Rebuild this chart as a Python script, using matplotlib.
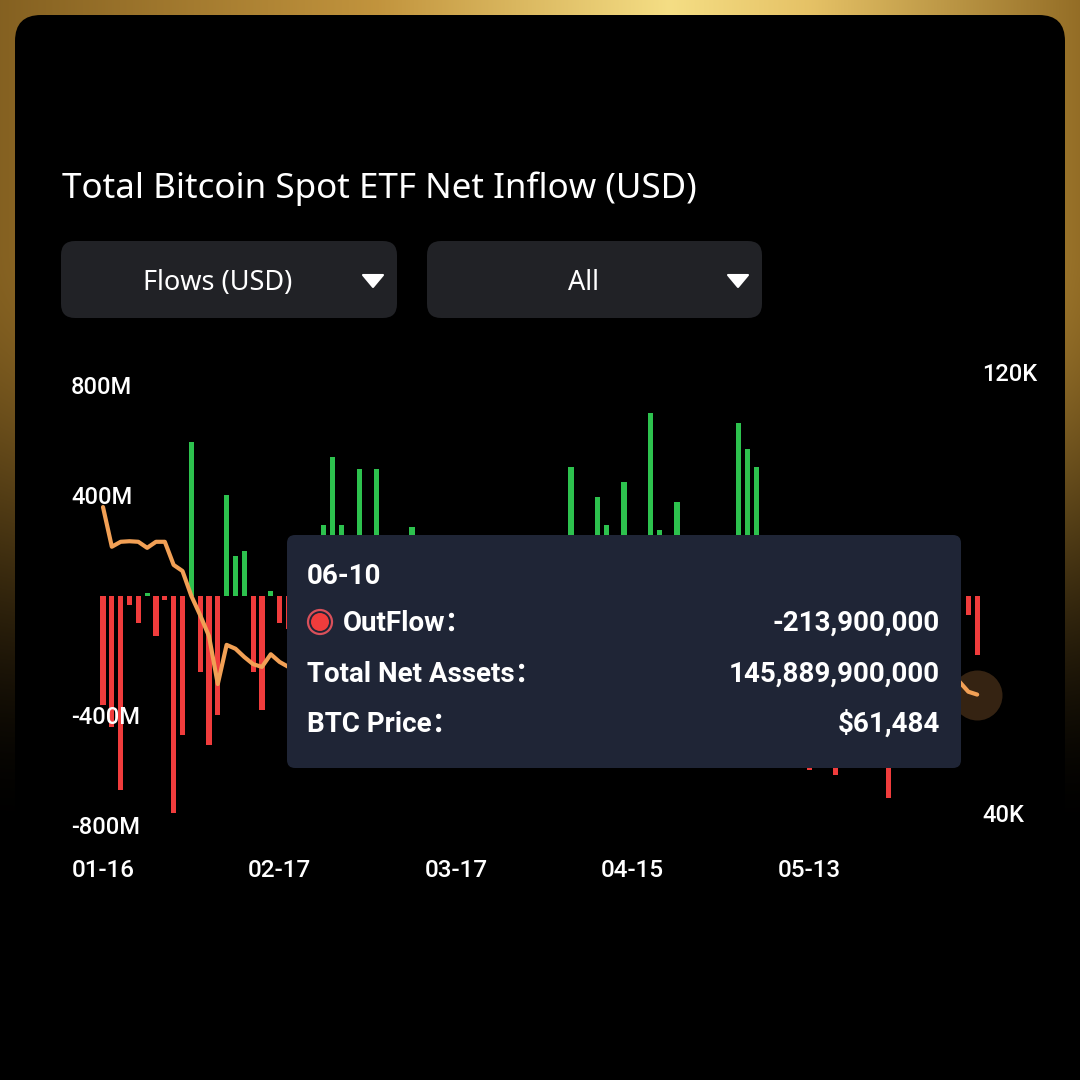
import numpy as np
import matplotlib
matplotlib.use('Agg')
import matplotlib.pyplot as plt
from matplotlib.patches import FancyBboxPatch, Polygon, Circle

# ---------------- data ----------------
flow_musd = [
    -396, -475, -705, -33, -99, 10, -145, -15, -790, -505,
    561, -275, -542, -433, 367, 145, 165, -275, -415, 18,
    -99, -120, 60, -180, 95, 258, 507, 258, 130, 462,
    85, 462, -140, 180, -60, 251, 120, -210, 75, -330,
    140, 40, -160, -90, 200, -410, -250, 110, -85, 30,
    -300, 150, -180, 470, 60, -120, 361, 258, 90, 416,
    -220, 150, 664, 240, -140, 343, 70, -280, 105, -540,
    -190, 200, 628, 535, 470, 120, -90, 50, -310, -160,
    -633, -180, 90, -651, -230, 130, -60, -470, 40, -735,
    -150, 80, -320, 160, -90, 60, -200, 0, -69, -213.9,
]
btc_price = [
    95500, 88300, 89200, 89300, 89200, 88100, 89200, 89200, 85000, 83900,
    79400, 75900, 72100, 63400, 70500, 69800, 68300, 67000, 66500, 68800,
    67400, 66500, 66000, 65500, 66800, 67500, 68200, 67000, 66400, 65800,
    66900, 68000, 69100, 70200, 71000, 70400, 69500, 68700, 69800, 71200,
    72000, 71500, 70300, 69000, 67800, 68500, 69400, 70600, 71300, 70800,
    69900, 68400, 67200, 66100, 65000, 64200, 63500, 64600, 65300, 64000,
    63100, 62400, 61800, 62900, 63700, 64500, 63200, 62000, 61300, 60500,
    59800, 60900, 62200, 63600, 64800, 65900, 66700, 67400, 68000, 67100,
    66300, 67200, 68100, 68900, 69500, 68800, 68000, 67300, 66500, 65800,
    65200, 64900, 65600, 66200, 66000, 65400, 64700, 63800, 62000, 61484,
]
x_tick_index = [0, 20, 40, 60, 80]
x_tick_labels = ['01-16', '02-17', '03-17', '04-15', '05-13']
left_ticks = [800, 400, -400, -800]
left_tick_labels = ['800M', '400M', '-400M', '-800M']
right_ticks = [120000, 40000]
right_tick_labels = ['120K', '40K']
title_text = 'Total Bitcoin Spot ETF Net Inflow (USD)'
dropdowns = ['Flows (USD)', 'All']
tooltip_date = '06-10'
tooltip_rows = [('OutFlow：', '-213,900,000'),
                ('Total Net Assets：', '145,889,900,000'),
                ('BTC Price：', '$61,484')]

GREEN = '#2dc24e'
RED = '#f03c3c'
ORANGE = '#f2a055'

plt.rcParams['font.family'] = ['Roboto', 'Noto Sans CJK SC', 'DejaVu Sans']

W = H = 1080
fig = plt.figure(figsize=(10.8, 10.8), dpi=100)
fig.patch.set_facecolor('black')

# ---------------- background ----------------
bg = fig.add_axes([0, 0, 1, 1], zorder=0)
bg.set_xlim(0, W)
bg.set_ylim(H, 0)
bg.axis('off')

xs = np.linspace(0, 1, W)
ys = np.arange(H)
xst = [0.0, 0.35, 0.62, 0.75, 1.0]
cr = [0.52, 0.76, 0.96, 0.90, 0.58]
cg = [0.38, 0.58, 0.87, 0.76, 0.43]
cb = [0.13, 0.24, 0.52, 0.40, 0.15]
base = np.stack([np.interp(xs, xst, cr), np.interp(xs, xst, cg), np.interp(xs, xst, cb)], axis=-1)
t = np.clip((ys - 250) / 590.0, 0, 1)
fade = 1 - (3 * t ** 2 - 2 * t ** 3)
img = fade[:, None, None] * base[None, :, :]
bg.imshow(img, extent=(0, W, H, 0), aspect='auto', interpolation='bilinear', zorder=0)

bg.add_patch(FancyBboxPatch((15, 15), 1050, 1200, boxstyle='round,pad=0,rounding_size=26',
                            fc='black', ec='none', zorder=1))

bg.text(62, 189, title_text, fontsize=25.2, color='white', va='center', ha='left',
        family=['Noto Sans', 'DejaVu Sans'], fontweight='medium', zorder=2)

boxes = [(61, 397, 218, 373), (427, 762, 584, 738)]
for (x0, x1, tx, triax), label in zip(boxes, dropdowns):
    bg.add_patch(FancyBboxPatch((x0, 241), x1 - x0, 77, boxstyle='round,pad=0,rounding_size=14',
                                fc='#212226', ec='none', zorder=2))
    bg.text(tx, 283, label, fontsize=19.5, color='white', va='center', ha='center',
            family=['Noto Sans', 'DejaVu Sans'], zorder=3)
    bg.add_patch(Polygon([[triax - 10, 275], [triax + 10, 275], [triax, 287]], closed=True,
                         fc='white', ec='white', lw=1.5, joinstyle='round', zorder=3))

# ---------------- chart ----------------
PX = 8.83          # pixels per bar
X0 = 103           # pixel of first bar
ZERO = 596         # pixel of zero flow
SC = 0.275         # pixels per million
top_px, bot_px, left_px, right_px = 340, 850, 80, 980

ax = fig.add_axes([left_px / W, 1 - bot_px / H, (right_px - left_px) / W, (bot_px - top_px) / H], zorder=1)
ax.patch.set_alpha(0)
idx = np.arange(len(flow_musd))
colors = [GREEN if v >= 0 else RED for v in flow_musd]
ax.bar(idx, flow_musd, width=0.58, color=colors, linewidth=0)
ax.set_xlim((left_px - X0) / PX, (right_px - X0) / PX)
ax.set_ylim(-(bot_px - ZERO) / SC, (ZERO - top_px) / SC)

ax.set_yticks(left_ticks, left_tick_labels)
for tl in ax.get_yticklabels():
    tl.set_ha('left')
    tl.set_va('top')
ax.tick_params(axis='y', length=0, pad=6.5, labelsize=17, labelcolor='white')
ax.set_xticks(x_tick_index, x_tick_labels)
ax.tick_params(axis='x', length=0, pad=6.5, labelsize=17.5, labelcolor='white')
for s in ax.spines.values():
    s.set_visible(False)

ax2 = ax.twinx()
ax2.set_zorder(2)
ax2.patch.set_visible(False)
RSC = 5.5125 / 1000.0   # pixels per USD
R40 = 813
ax2.set_ylim(40000 - (bot_px - R40) / RSC, 40000 + (R40 - top_px) / RSC)
ax2.plot(idx, btc_price, color=ORANGE, lw=3.0, solid_capstyle='round', solid_joinstyle='round')
ax2.plot([idx[-1]], [btc_price[-1]], 'o', ms=36, color=ORANGE, alpha=0.22, mec='none', clip_on=False)
ax2.set_yticks(right_ticks, right_tick_labels)
ax2.tick_params(axis='y', length=0, pad=1.5, labelsize=17, labelcolor='white')
for s in ax2.spines.values():
    s.set_visible(False)
for a in (ax, ax2):
    for tl in a.get_xticklabels() + a.get_yticklabels():
        tl.set_fontweight('medium')

# ---------------- tooltip ----------------
ov = fig.add_axes([0, 0, 1, 1], zorder=3)
ov.set_xlim(0, W)
ov.set_ylim(H, 0)
ov.axis('off')
ov.patch.set_alpha(0)
ov.add_patch(FancyBboxPatch((287, 535), 674, 233, boxstyle='round,pad=0,rounding_size=8',
                            fc='#1f2536', ec='none'))
ov.text(307, 577, tooltip_date, fontsize=20, color='white', fontweight='bold', va='center', ha='left')
row_y = [623, 674, 724]
for (lab, val), yy in zip(tooltip_rows, row_y):
    lx = 343 if lab.startswith('OutFlow') else 307
    ov.text(lx, yy, lab, fontsize=20, color='white', fontweight='bold', va='center', ha='left')
    ov.text(940, yy, val, fontsize=20, color='white', fontweight='bold', va='center', ha='right')
ov.add_patch(Circle((320, 622), 12, fc='none', ec='#d9505a', lw=1.6))
ov.add_patch(Circle((320, 622), 9, fc=RED, ec='none'))

fig.savefig('out.png', dpi=100, facecolor='black')
